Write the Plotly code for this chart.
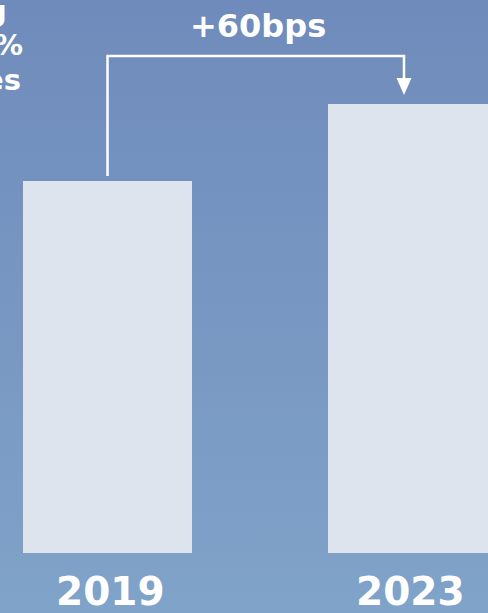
import base64
import plotly.graph_objects as go

# Chart data
years = ["2019", "2023"]
values = [2.9, 3.5]          # share, %
fragments = ["g", "%", "es"]  # left-edge caption fragments

W, H = 488, 613
MB = 60                      # bottom margin holding the year labels
PLOT_H = H - MB
Y_MAX = 4.311
px_per_unit = PLOT_H / Y_MAX

BG_TOP, BG_BOTTOM = "#6f8bbb", "#80a3c9"
BAR_COLOR = "#dee4ee"
FONT = "DejaVu Sans"

# Vertical gradient background as an inline SVG image
svg = (
    f'<svg xmlns="http://www.w3.org/2000/svg" width="{W}" height="{H}">'
    '<defs><linearGradient id="g" x1="0" y1="0" x2="0" y2="1">'
    f'<stop offset="0" stop-color="{BG_TOP}"/>'
    f'<stop offset="1" stop-color="{BG_BOTTOM}"/>'
    '</linearGradient></defs>'
    f'<rect width="{W}" height="{H}" fill="url(#g)"/></svg>'
)
bg_src = "data:image/svg+xml;base64," + base64.b64encode(svg.encode()).decode()

fig = go.Figure()
fig.add_trace(go.Bar(
    x=years, y=values, width=0.554,
    marker=dict(color=BAR_COLOR, line=dict(width=0)),
    hoverinfo="skip",
))

# Bracket connecting the two bars, with a downward arrowhead
def px(v):
    return v / px_per_unit

x_left = 0.0
x_right = 1.0 - 8.5 / 305
y_start = values[0] + px(5)
y_top = values[1] + px(48)
y_tip = values[1] + px(9)
y_head = y_tip + px(17)
half_w = 7.5 / 305

fig.add_shape(
    type="path",
    path=f"M {x_left},{y_start} L {x_left},{y_top} L {x_right},{y_top} L {x_right},{y_head}",
    line=dict(color="white", width=2.5), xref="x", yref="y",
)
fig.add_shape(
    type="path",
    path=f"M {x_right - half_w},{y_head} L {x_right + half_w},{y_head} L {x_right},{y_tip} Z",
    line=dict(color="white", width=0), fillcolor="white", xref="x", yref="y",
)

delta_bps = round((values[1] - values[0]) * 100)
fig.add_annotation(
    text=f"<b>+{delta_bps}bps</b>", x=257.5 / W, y=(PLOT_H - 26) / PLOT_H,
    xref="paper", yref="paper", showarrow=False, xanchor="center", yanchor="middle",
    font=dict(family=FONT, size=32, color="white"),
)

# Year labels beneath the bars (category index positions)
label_shift = [3, -2]
for i, yr in enumerate(years):
    fig.add_annotation(
        text=f"<b>{yr}</b>", x=i, y=-(591 - PLOT_H) / PLOT_H, xshift=label_shift[i],
        xref="x", yref="paper", showarrow=False, xanchor="center", yanchor="middle",
        height=40, valign="middle",
        font=dict(family=FONT, size=39, color="white"),
    )

# Caption fragments at the left edge
frag_pos = [(9, 11), (25, 45), (23, 80)]
for txt, (xr, yc) in zip(fragments, frag_pos):
    fig.add_annotation(
        text=f"<b>{txt}</b>", x=xr / W, y=(PLOT_H - yc) / PLOT_H,
        xref="paper", yref="paper", showarrow=False, xanchor="right", yanchor="middle",
        font=dict(family=FONT, size=29, color="white"),
    )

fig.update_layout(
    width=W, height=H,
    margin=dict(l=0, r=0, t=0, b=MB, pad=0),
    paper_bgcolor=BG_BOTTOM, plot_bgcolor="rgba(0,0,0,0)",
    showlegend=False, bargap=0,
    xaxis=dict(type="category", range=[-0.3525, 1.2475], visible=False, fixedrange=True),
    yaxis=dict(range=[0, Y_MAX], visible=False, fixedrange=True),
    images=[dict(
        source=bg_src, xref="paper", yref="paper", x=0, y=1,
        sizex=1, sizey=H / PLOT_H, sizing="stretch", xanchor="left", yanchor="top",
        layer="below",
    )],
)

fig.write_html("out.html", config={"displayModeBar": False})
